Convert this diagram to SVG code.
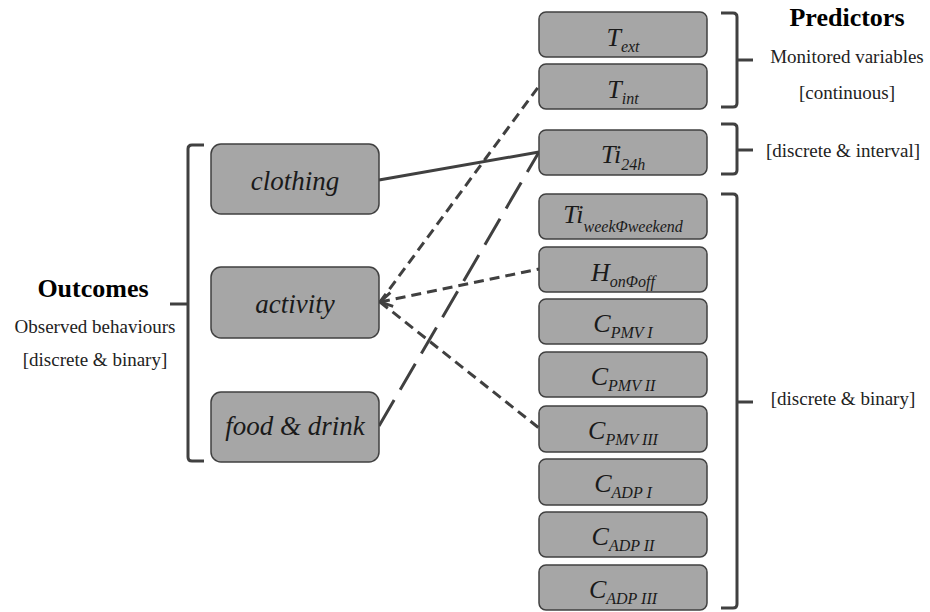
<svg xmlns="http://www.w3.org/2000/svg" width="930" height="612" viewBox="0 0 930 612">
<style>
.box{fill:#a6a6a6;stroke:#404040;stroke-width:1.5}
.lbl{font-family:"Liberation Serif","Times New Roman",serif;font-style:italic;font-size:27px;fill:#1a1a1a;text-anchor:middle}
.var{font-family:"Liberation Serif","Times New Roman",serif;font-style:italic;font-size:26px;fill:#1a1a1a;text-anchor:middle}
.sub{font-size:16px}
.head{font-family:"Liberation Serif","Times New Roman",serif;font-weight:bold;font-size:26px;fill:#000;text-anchor:middle}
.note{font-family:"Liberation Serif","Times New Roman",serif;font-size:19px;fill:#222;text-anchor:middle}
.brace{fill:none;stroke:#404040;stroke-width:3;stroke-linejoin:round}
.conn{fill:none;stroke:#404040;stroke-width:3}
.dash{stroke-dasharray:10 6}
.long{stroke-dasharray:30 12}
</style>
<defs>
<marker id="chev" markerUnits="userSpaceOnUse" markerWidth="20" markerHeight="20" refX="0" refY="10" viewBox="0 0 20 20" orient="auto" overflow="visible">
<path d="M12,3 L0,10 L12,17" fill="none" stroke="#404040" stroke-width="3" stroke-dasharray="none"/>
</marker>
</defs>

<g id="connectors">
<line class="conn" x1="379" y1="180" x2="539" y2="152"/>
<line class="conn long" x1="379" y1="426" x2="539" y2="152"/>
<line class="conn dash" x1="380" y1="302" x2="539" y2="86"/>
<line class="conn dash" x1="380" y1="302" x2="539" y2="269" marker-start="url(#chev)"/>
<line class="conn dash" x1="380" y1="302" x2="539" y2="428"/>
</g>

<g id="outcomes-brace">
<path class="brace" d="M204,145 H192 Q188,145 188,149 V457 Q188,461 192,461 H204 M170,304 H188"/>
<text class="head" x="93" y="297">Outcomes</text>
<text class="note" x="95" y="333">Observed behaviours</text>
<text class="note" x="95" y="366">[discrete &amp; binary]</text>
</g>

<g id="clothing"><rect class="box" x="211" y="144" width="168" height="70" rx="10"/><text class="lbl" x="295" y="190">clothing</text></g>
<g id="activity"><rect class="box" x="211" y="267" width="168" height="71" rx="10"/><text class="lbl" x="295" y="313">activity</text></g>
<g id="food"><rect class="box" x="211" y="392" width="168" height="70" rx="10"/><text class="lbl" x="295" y="435">food &amp; drink</text></g>

<g id="T_ext"><rect class="box" x="539" y="12" width="168" height="45" rx="7"/><text class="var" x="623" y="46">T<tspan class="sub" dy="6">ext</tspan></text></g>
<g id="T_int"><rect class="box" x="539" y="64" width="168" height="45" rx="7"/><text class="var" x="623" y="98">T<tspan class="sub" dy="6">int</tspan></text></g>
<g id="Ti_24h"><rect class="box" x="539" y="130" width="168" height="45" rx="7"/><text class="var" x="623" y="163">Ti<tspan class="sub" dy="7">24h</tspan></text></g>
<g id="Ti_week"><rect class="box" x="539" y="194" width="168" height="45" rx="7"/><text class="var" x="623" y="223">Ti<tspan class="sub" dy="9">weekΦweekend</tspan></text></g>
<g id="H_onoff"><rect class="box" x="539" y="247" width="168" height="45" rx="7"/><text class="var" x="623" y="281">H<tspan class="sub" dy="6">onΦoff</tspan></text></g>
<g id="C_PMV_I"><rect class="box" x="539" y="299" width="168" height="45" rx="7"/><text class="var" x="623" y="332">C<tspan class="sub" dy="6">PMV I</tspan></text></g>
<g id="C_PMV_II"><rect class="box" x="539" y="352" width="168" height="45" rx="7"/><text class="var" x="623" y="385">C<tspan class="sub" dy="6">PMV II</tspan></text></g>
<g id="C_PMV_III"><rect class="box" x="539" y="406" width="168" height="46" rx="7"/><text class="var" x="623" y="439">C<tspan class="sub" dy="6">PMV III</tspan></text></g>
<g id="C_ADP_I"><rect class="box" x="539" y="459" width="168" height="46" rx="7"/><text class="var" x="623" y="492">C<tspan class="sub" dy="6">ADP I</tspan></text></g>
<g id="C_ADP_II"><rect class="box" x="539" y="512" width="168" height="45" rx="7"/><text class="var" x="623" y="545">C<tspan class="sub" dy="6">ADP II</tspan></text></g>
<g id="C_ADP_III"><rect class="box" x="539" y="565" width="168" height="45" rx="7"/><text class="var" x="623" y="598">C<tspan class="sub" dy="6">ADP III</tspan></text></g>

<g id="predictors-braces">
<path class="brace" d="M721,13 H733 Q737,13 737,17 V103 Q737,107 733,107 H721 M737,60 H753"/>
<path class="brace" d="M721,124 H733 Q737,124 737,128 V170 Q737,174 733,174 H721 M737,150 H753"/>
<path class="brace" d="M721,194 H733 Q737,194 737,198 V604 Q737,608 733,608 H721 M737,402 H753"/>
<text class="head" x="847" y="26">Predictors</text>
<text class="note" x="847" y="63">Monitored variables</text>
<text class="note" x="847" y="99">[continuous]</text>
<text class="note" x="843" y="157">[discrete &amp; interval]</text>
<text class="note" x="843" y="405">[discrete &amp; binary]</text>
</g>
</svg>
